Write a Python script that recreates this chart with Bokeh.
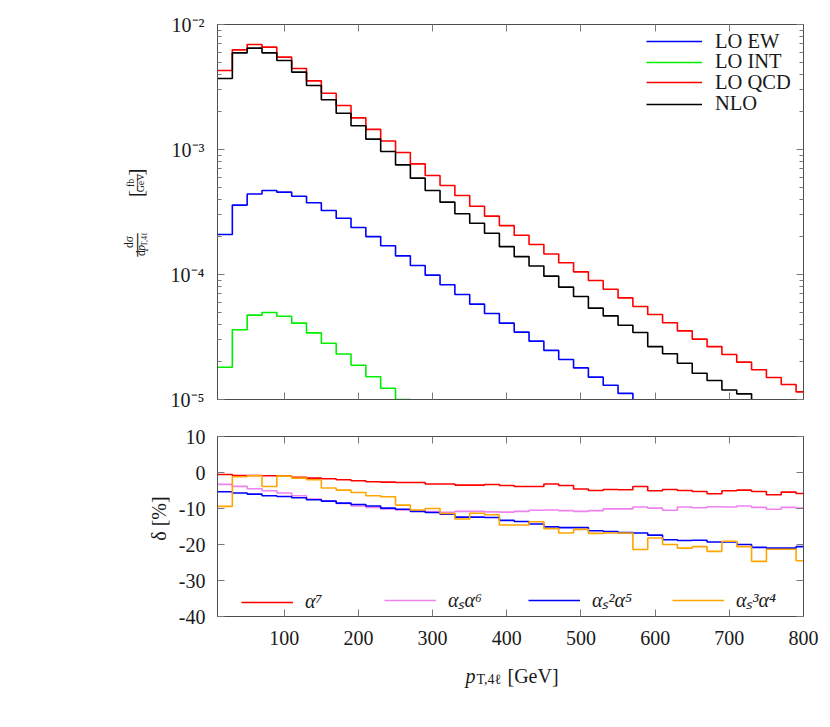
import math
from bokeh.plotting import figure
from bokeh.layouts import column, row
from bokeh.models import (Range1d, FixedTicker, CustomJSTickFormatter, LinearAxis, LogAxis,
                          Legend, LegendItem)
from bokeh.core.properties import value
from bokeh.embed import file_html
from bokeh.resources import INLINE

# ---------------- data ----------------
bin_edges = list(range(10, 811, 20))          # 20 GeV bins, first edge at 10 GeV
x_ticks = [100, 200, 300, 400, 500, 600, 700, 800]
y_top_ticks = [1e-5, 1e-4, 1e-3, 1e-2]
y_bot_ticks = [-40, -30, -20, -10, 0, 10]

lo_ew = [2.09e-4, 3.59e-4, 4.40e-4, 4.70e-4, 4.56e-4, 4.23e-4, 3.75e-4, 3.25e-4, 2.82e-4, 2.38e-4,
         2.01e-4, 1.70e-4, 1.41e-4, 1.18e-4, 9.88e-5, 8.27e-5, 6.92e-5, 5.79e-5, 4.88e-5, 4.08e-5,
         3.46e-5, 2.93e-5, 2.47e-5, 2.09e-5, 1.79e-5, 1.51e-5, 1.30e-5, 1.12e-5, 9.4e-6]
lo_int = [1.81e-5, 3.61e-5, 4.73e-5, 4.97e-5, 4.64e-5, 4.08e-5, 3.41e-5, 2.82e-5, 2.31e-5, 1.88e-5,
          1.52e-5, 1.23e-5, 1.0e-5, 8.2e-6]
lo_qcd = [4.28e-3, 6.27e-3, 6.92e-3, 6.59e-3, 5.48e-3, 4.45e-3, 3.54e-3, 2.82e-3, 2.25e-3, 1.79e-3,
          1.45e-3, 1.17e-3, 9.46e-4, 7.68e-4, 6.19e-4, 5.15e-4, 4.28e-4, 3.52e-4, 2.93e-4, 2.46e-4,
          2.06e-4, 1.74e-4, 1.46e-4, 1.24e-4, 1.05e-4, 8.95e-5, 7.63e-5, 6.50e-5, 5.55e-5, 4.79e-5,
          4.11e-5, 3.54e-5, 3.04e-5, 2.65e-5, 2.29e-5, 1.99e-5, 1.73e-5, 1.50e-5, 1.32e-5, 1.15e-5]
nlo = [3.70e-3, 5.93e-3, 6.47e-3, 5.93e-3, 5.15e-3, 4.16e-3, 3.25e-3, 2.50e-3, 1.95e-3, 1.55e-3,
       1.21e-3, 9.64e-4, 7.54e-4, 5.90e-4, 4.70e-4, 3.79e-4, 3.06e-4, 2.57e-4, 2.14e-4, 1.67e-4,
       1.39e-4, 1.17e-4, 9.70e-5, 7.92e-5, 6.67e-5, 5.38e-5, 4.67e-5, 3.93e-5, 3.44e-5, 2.65e-5,
       2.32e-5, 1.95e-5, 1.62e-5, 1.42e-5, 1.19e-5, 1.11e-5, 9.4e-6]

d_a7 = [-0.55, -0.83, -0.83, -0.92, -1.0, -1.3, -1.56, -1.75, -2.0, -2.3,
        -2.58, -2.67, -2.77, -2.77, -3.2, -3.2, -3.5, -3.5, -3.33, -3.6,
        -3.89, -3.89, -3.2, -3.6, -4.6, -5.0, -4.72, -4.8, -3.89, -5.08,
        -4.72, -5.0, -5.28, -5.92, -5.08, -4.9, -5.28, -6.19, -5.45, -5.83]
d_as_a6 = [-3.3, -3.85, -4.5, -5.05, -5.7, -6.45, -7.4, -7.9, -8.6, -9.3,
           -9.7, -10.1, -10.4, -10.65, -10.85, -11.05, -10.8, -10.8, -10.95, -11.0,
           -10.8, -10.5, -10.4, -10.6, -10.8, -10.6, -10.1, -10.1, -9.6, -9.9,
           -10.5, -9.6, -9.8, -9.5, -9.6, -9.3, -9.7, -10.2, -9.7, -9.9]
d_as2_a5 = [-5.36, -5.7, -6.0, -6.47, -6.67, -7.03, -7.58, -7.95, -8.5, -8.9,
            -9.3, -9.9, -10.2, -10.8, -11.1, -11.57, -12.4, -12.4, -12.5, -13.3,
            -13.6, -14.3, -15.1, -15.3, -15.3, -16.2, -16.4, -16.7, -16.8, -17.4,
            -18.7, -18.9, -18.8, -19.3, -19.3, -20.0, -20.8, -21.0, -21.0, -20.6]
d_as3_a4 = [-9.4, -1.2, -0.92, -3.9, -1.0, -1.56, -2.0, -4.3, -4.9, -5.55,
            -6.47, -6.75, -9.06, -10.4, -10.0, -11.4, -12.9, -11.3, -11.75, -14.6,
            -14.6, -13.7, -15.6, -16.8, -15.8, -16.9, -16.8, -16.8, -21.4, -18.2,
            -20.0, -21.0, -20.6, -21.9, -19.1, -20.6, -24.7, -21.3, -21.3, -24.5]

top_labels = ["LO EW", "LO INT", "LO QCD", "NLO"]
bot_labels = ["\u03b1\u2077", "\u03b1\u209b\u03b1\u2076", "\u03b1\u209b\u00b2\u03b1\u2075", "\u03b1\u209b\u00b3\u03b1\u2074"]

# ---------------- style ----------------
SERIF = "Liberation Serif"
TXT = "#1a1a1a"
LW = 1.6
R = math.pi / 2

def steps(vals):
    xs = bin_edges[:len(vals) + 1]
    ys = list(vals) + [vals[-1]]
    return xs, ys

EMPTY = "return ''"
SUP = """
const sup = {"-": "\u207b", "0": "\u2070", "1": "\u00b9", "2": "\u00b2", "3": "\u00b3",
             "4": "\u2074", "5": "\u2075", "6": "\u2076", "7": "\u2077", "8": "\u2078", "9": "\u2079"};
const e = Math.round(Math.log10(tick));
return "10" + String(e).split("").map(c => sup[c]).join("");
"""

def style_axis(ax, show_labels, standoff=12):
    ax.axis_line_color = "#4d4d4d"
    ax.axis_line_width = 1
    ax.major_tick_in = 7
    ax.major_tick_out = 0
    ax.minor_tick_in = 4
    ax.minor_tick_out = 0
    ax.major_tick_line_color = "#7a7a7a"
    ax.minor_tick_line_color = "#7a7a7a"
    ax.major_label_text_font = SERIF
    ax.major_label_text_color = TXT
    if show_labels:
        ax.major_label_text_font_size = "20px"
        ax.major_label_standoff = standoff
    else:
        ax.major_label_text_font_size = "0px"
        ax.major_label_standoff = 0
        ax.formatter = CustomJSTickFormatter(code=EMPTY)

def make_fig(width, height, y_range, y_type, left, top, bottom):
    p = figure(width=width, height=height, x_range=Range1d(10, 800), y_range=y_range,
               y_axis_type=y_type, output_backend="svg", toolbar_location=None, title=None,
               min_border_left=left, min_border_right=19, min_border_top=top, min_border_bottom=bottom)
    p.grid.visible = False
    p.outline_line_color = "#4d4d4d"
    p.background_fill_color = "white"
    p.border_fill_color = "white"
    return p

def text_fig(width, height):
    f = figure(width=width, height=height, x_range=Range1d(0, width), y_range=Range1d(0, height),
               output_backend="svg", toolbar_location=None, title=None, min_border=0,
               x_axis_location=None, y_axis_location=None)
    f.grid.visible = False
    f.outline_line_color = None
    f.border_fill_color = "white"
    return f

def put(f, x, y, txt, size, angle=0.0, align="center", baseline="middle", style="normal"):
    f.text(x=[x], y=[y], text=[txt], angle=angle, text_align=align, text_baseline=baseline,
           text_font=value(SERIF), text_font_size=value(size), text_font_style=style,
           text_color=TXT)

def single_legend(p, txt, r, loc, font, style, gw, standoff):
    lg = Legend(items=[LegendItem(label=txt, renderers=[r])], location=loc,
                orientation="horizontal", padding=0, margin=0, spacing=0,
                glyph_width=gw, glyph_height=20, label_height=20, label_standoff=standoff,
                label_text_font=SERIF, label_text_font_size=font, label_text_font_style=style,
                label_text_color=TXT, border_line_color=None, background_fill_alpha=0)
    p.add_layout(lg)

# ---------------- top panel ----------------
p1 = make_fig(665, 419, Range1d(1e-5, 1e-2), "log", 60, 24, 20)
minor_log = [m * 10.0 ** k for k in (-5, -4, -3) for m in range(2, 10)]

bx = p1.below[0]
bx.ticker = FixedTicker(ticks=x_ticks)
style_axis(bx, False)
bx.minor_tick_line_color = None
ly = p1.left[0]
ly.ticker = FixedTicker(ticks=y_top_ticks, minor_ticks=minor_log)
style_axis(ly, True, 13)
ly.formatter = CustomJSTickFormatter(code=SUP)

ax_t = LinearAxis(ticker=FixedTicker(ticks=x_ticks))
style_axis(ax_t, False)
ax_t.minor_tick_line_color = None
p1.add_layout(ax_t, "above")
ax_r = LogAxis(ticker=FixedTicker(ticks=y_top_ticks, minor_ticks=minor_log))
style_axis(ax_r, False)
p1.add_layout(ax_r, "right")

top_series = [(lo_ew, "#0000ff"), (lo_int, "#00ee00"), (lo_qcd, "#ff0000"), (nlo, "#000000")]
top_leg_y = [346.5, 325.8, 305.5, 283.8]
for (vals, col), txt, ly_ in zip(top_series, top_labels, top_leg_y):
    xs, ys = steps(vals)
    r = p1.step(xs, ys, mode="after", line_color=col, line_width=LW)
    single_legend(p1, txt, r, (429, ly_), "20.5px", "normal", 56, 13)

# y label (stacked fractions, rotated) in a side text panel
lf1 = text_fig(157, 419)
Y1 = 419
put(lf1, 128.5, Y1 - 243, "d\u03c3", "11.5px", R)
put(lf1, 134.5, Y1 - 246.5, "\u2014", "23px", R)
put(lf1, 140.5, Y1 - 255.5, "d", "11.5px", R)
put(lf1, 140.5, Y1 - 249.5, "p", "11.5px", R, style="italic")
put(lf1, 143.5, Y1 - 240, "T,4\u2113", "8px", R)
put(lf1, 134.5, Y1 - 189, "[", "22px", R)
put(lf1, 129.5, Y1 - 177, "fb", "10px", R)
put(lf1, 134.5, Y1 - 177, "\u2014", "16px", R)
put(lf1, 140, Y1 - 177, "GeV", "10px", R)
put(lf1, 134.5, Y1 - 165, "]", "22px", R)

# ---------------- bottom panel ----------------
p2 = make_fig(652, 237, Range1d(-40, 10), "linear", 47, 17, 40)
bx2 = p2.below[0]
bx2.ticker = FixedTicker(ticks=x_ticks)
style_axis(bx2, True, 14)
bx2.minor_tick_line_color = None
ly2 = p2.left[0]
ly2.ticker = FixedTicker(ticks=y_bot_ticks)
style_axis(ly2, True, 12)
ly2.minor_tick_line_color = None
ly2.major_label_overrides = {v: str(v) for v in y_bot_ticks}

ax_t2 = LinearAxis(ticker=FixedTicker(ticks=x_ticks))
style_axis(ax_t2, False)
ax_t2.minor_tick_line_color = None
p2.add_layout(ax_t2, "above")
ax_r2 = LinearAxis(ticker=FixedTicker(ticks=y_bot_ticks))
style_axis(ax_r2, False)
ax_r2.minor_tick_line_color = None
p2.add_layout(ax_r2, "right")

bot_series = [(d_a7, "#ff0000"), (d_as_a6, "#ee82ee"), (d_as2_a5, "#0000ff"), (d_as3_a4, "#ffa500")]
leg_x = [24, 167, 311, 455]
for (vals, col), txt, lx in zip(bot_series, bot_labels, leg_x):
    xs, ys = steps(vals)
    r = p2.step(xs, ys, mode="after", line_color=col, line_width=LW)
    single_legend(p2, txt, r, (lx, 3), "20px", "italic", 52, 12)

lf2 = text_fig(170, 237)
put(lf2, 158, 656 - 527, "\u03b4 [%]", "20px", R)

# x label panel
xf = text_fig(822, 60)
put(xf, 465, 716 - 675, "p", "20px", 0.0, "left", "alphabetic", "italic")
put(xf, 476, 716 - 679, "T,4\u2113", "14px", 0.0, "left", "alphabetic")
put(xf, 507, 716 - 675, "[GeV]", "20px", 0.0, "left", "alphabetic")

layout = column(row(lf1, p1), row(lf2, p2), xf)
with open("out.html", "w") as f:
    f.write(file_html(layout, INLINE))
